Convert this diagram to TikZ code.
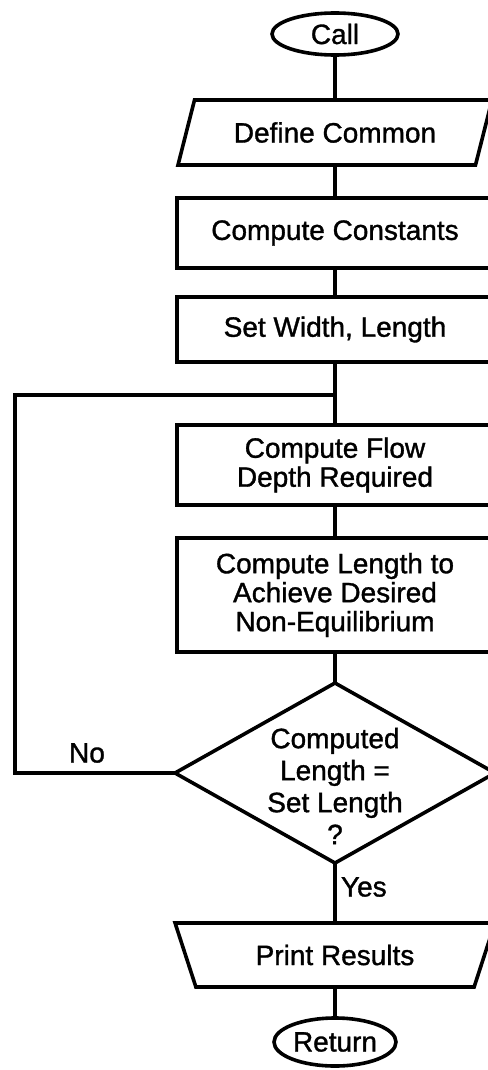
\documentclass[tikz,border=0pt]{standalone}
\usepackage{fontspec}
\setmainfont{Liberation Sans}
\newfontfamily\medfont{Liberation Sans}[FakeBold=1.2]
\usetikzlibrary{shapes.geometric}
\begin{document}
\begin{tikzpicture}[x=1pt,y=-1pt,
  every node/.style={font=\medfont\fontsize{28}{29}\selectfont, outer sep=0pt, inner sep=0pt},
  ln/.style={line width=3.6pt},
  term/.style={draw, ln, ellipse},
  procbox/.style={draw, ln, rectangle, minimum width=316pt, align=center},
  iobox/.style={draw, ln, trapezium, trapezium stretches=true},
  decide/.style={draw, ln, diamond, minimum width=320pt, minimum height=180pt},
  lbl/.style={align=center}
]
\useasboundingbox (0,0) rectangle (487,1070);

\node[term, minimum width=126pt, minimum height=42pt] (call) at (335,34) {Call};
\node[iobox, trapezium left angle=60, trapezium right angle=120,
      minimum width=315pt, minimum height=65pt] (dc) at (335,132.5) {Define Common};
\node[procbox, minimum height=70pt] (cc) at (335,233) {Compute Constants};
\node[procbox, minimum height=65pt] (sw) at (335,329.5) {Set Width, Length};
\node[procbox, minimum height=80pt] (cf) at (335,465) {Compute Flow\\Depth Required};
\node[procbox, minimum height=114pt] (cl) at (335,595) {Compute Length to\\Achieve Desired\\Non-Equilibrium};
\node[decide] (dia) at (335,773) {};
\node[lbl, font=\medfont\fontsize{28}{32}\selectfont] (diatext) at (335,786) {Computed\\Length =\\Set Length\\?};
\node[iobox, shape border rotate=180, trapezium left angle=60, trapezium right angle=60,
      minimum width=320pt, minimum height=64pt] (pr) at (335,955) {Print Results};
\node[term, minimum width=122pt, minimum height=48pt] (ret) at (335,1042) {Return};

\node (no) at (87,753) {No};
\node[anchor=west] (yes) at (341,887) {Yes};

\coordinate (j) at (335,395);
\coordinate (fbt) at (15,395);
\coordinate (fbb) at (15,773);

\draw[ln] (call.south) -- (dc.north);
\draw[ln] (dc.south) -- (cc.north);
\draw[ln] (cc.south) -- (sw.north);
\draw[ln] (sw.south) -- (cf.north);
\draw[ln] (cf.south) -- (cl.north);
\draw[ln] (cl.south) -- (dia.north);
\draw[ln] (dia.south) -- (pr.north);
\draw[ln] (pr.south) -- (ret.north);
\draw[ln] (dia.west) -- (fbb) -- (fbt) -- (j);
\end{tikzpicture}
\end{document}
